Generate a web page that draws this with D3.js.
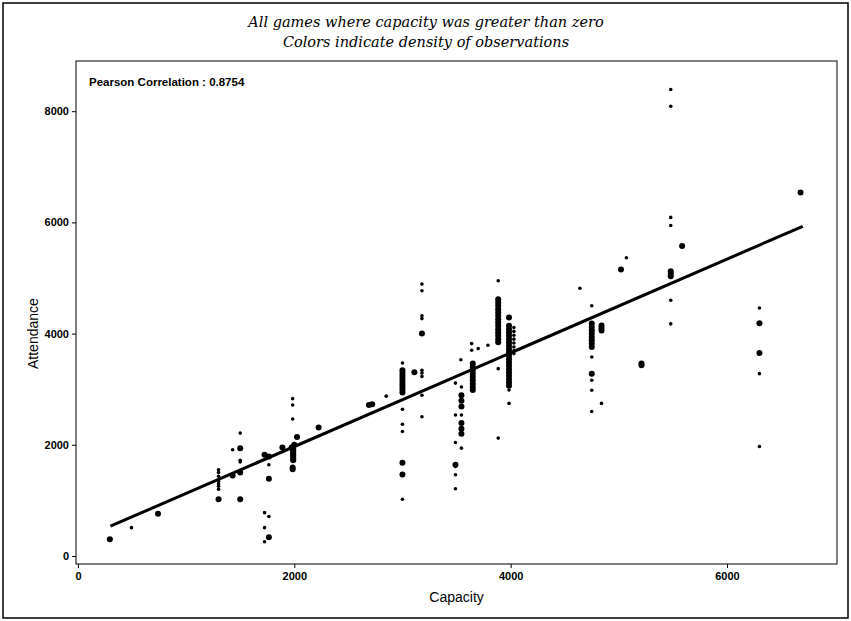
<!DOCTYPE html>
<html>
<head>
<meta charset="utf-8">
<script src="https://cdn.jsdelivr.net/npm/d3@7"></script>
<style>
  body { margin: 0; background: #fff; }
  svg { display: block; }
  .tick text { font-family: "Liberation Sans", Arial, sans-serif; font-size: 11px; font-weight: bold; fill: #000; }
</style>
</head>
<body>
<div id="chart"></div>
<script>
// titles
const titleLines = [
  'All games where capacity was greater than zero',
  'Colors indicate density of observations',
]
const corrLabel = 'Pearson Correlation :  0.8754'

const xTicks = [0, 2000, 4000, 6000]
const yTicks = [0, 2000, 4000, 6000, 8000]

// fitted regression line
const fitRange = [300, 6700]
const fitSlope = 0.8427
const fitIntercept = 283

// observations: capacity, attendance, dense (1 = bigger dot)
const capacity = [
  295, 495, 740,
  1300, 1300, 1300, 1300, 1300, 1300, 1300, 1300,
  1430, 1430,
  1500, 1500, 1500, 1500, 1500, 1500,
  1725, 1725, 1725, 1725,
  1765, 1765, 1765, 1765, 1765,
  1890,
  1985, 1985, 1985, 1990, 1990, 1990, 1990, 1990, 1990, 1990, 1990, 1990, 1975, 2000, 1985, 1985,
  2025, 2225, 2690, 2720, 2850,
  3000, 3000, 3000, 3000, 3000, 3000, 3000, 3000, 3000, 3000, 3000, 3000, 3000, 3000, 3000, 3000,
  3110,
  3180, 3180, 3180, 3180, 3180, 3180, 3180, 3180, 3180, 3180,
  3490, 3490, 3490, 3490, 3490, 3490, 3490,
  3540, 3545, 3545, 3545, 3545, 3545, 3545, 3545, 3545, 3545,
  3640, 3640, 3650, 3650, 3650, 3650, 3650, 3650, 3650, 3650, 3650,
  3700, 3790,
  3885, 3885, 3885, 3885, 3885, 3885, 3885, 3885, 3885, 3885, 3885, 3885, 3885, 3885, 3885, 3885, 3885,
  3985, 3985, 3985, 3985, 3985, 3985, 3985, 3985, 3985, 3985, 3985, 3985, 3985, 3985, 3985, 3985, 3985, 3985, 3985, 3985, 3985, 3985,
  4030, 4030, 4030, 4030, 4030, 4030, 4030, 4030,
  4640,
  4750, 4750, 4750, 4750, 4750, 4750, 4750, 4750, 4750, 4750, 4750, 4750, 4750, 4750,
  4840, 4840, 4840, 4840,
  5020, 5070, 5210, 5210,
  5480, 5480, 5480, 5480, 5480, 5480, 5480, 5480, 5480,
  5585,
  6300, 6300, 6300, 6300, 6300,
  6680,
]
const attendance = [
  300, 510, 760,
  1550, 1500, 1435, 1345, 1300, 1255, 1200, 1020,
  1910, 1450,
  2210, 1940, 1720, 1690, 1500, 1020,
  1820, 780, 510, 255,
  1790, 1640, 1390, 710, 335,
  1950,
  2830, 2715, 2465, 1970, 1930, 1900, 1870, 1840, 1810, 1780, 1750, 1720, 1950, 2000, 1590, 1560,
  2140, 2310, 2715, 2730, 2875,
  3470, 3340, 3290, 3240, 3190, 3140, 3090, 3040, 2990, 2940, 2640, 2370, 2240, 1675, 1465, 1020,
  3305,
  4890, 4770, 4320, 4270, 4000, 3340, 3290, 3230, 2890, 2505,
  3110, 2535, 2040, 1640, 1610, 1460, 1210,
  3530, 3040, 2890, 2790, 2690, 2535, 2390, 2290, 2200, 1940,
  3820, 3700, 3460, 3400, 3340, 3280, 3220, 3160, 3100, 3040, 2985,
  3730, 3790,
  4950, 4620, 4560, 4500, 4440, 4380, 4320, 4260, 4200, 4140, 4080, 4020, 3960, 3900, 3845, 3370, 2120,
  4290, 4140, 4080, 4020, 3960, 3900, 3840, 3780, 3720, 3660, 3600, 3540, 3480, 3420, 3360, 3300, 3240, 3180, 3120, 3060, 2985, 2745,
  4110, 4040, 3970, 3900, 3830, 3760, 3690, 3640,
  4815,
  4500, 4180, 4120, 4060, 4000, 3940, 3880, 3820, 3760, 3580, 3280, 3160, 2980, 2600,
  4145, 4100, 4055, 2745,
  5155, 5365, 3430, 3460,
  8390, 8090, 6090, 5945, 5120, 5075, 5030, 4600, 4175,
  5575,
  4460, 4185, 3650, 3280, 1970,
  6540,
]
const dense = [
  1, 0, 1,
  0, 0, 0, 0, 0, 0, 0, 1,
  0, 1,
  0, 1, 0, 0, 1, 1,
  1, 0, 0, 0,
  1, 0, 1, 0, 1,
  1,
  0, 0, 0, 1, 1, 1, 1, 1, 1, 1, 1, 1, 1, 1, 1, 1,
  1, 1, 1, 1, 0,
  0, 1, 1, 1, 1, 1, 1, 1, 1, 1, 0, 0, 0, 1, 1, 0,
  1,
  0, 0, 0, 0, 1, 0, 0, 0, 0, 0,
  0, 0, 0, 1, 0, 0, 0,
  0, 0, 1, 1, 1, 0, 1, 1, 1, 0,
  0, 0, 1, 1, 1, 1, 1, 1, 1, 1, 1,
  0, 0,
  0, 1, 1, 1, 1, 1, 1, 1, 1, 1, 1, 1, 1, 1, 1, 0, 0,
  1, 1, 1, 1, 1, 1, 1, 1, 1, 1, 1, 1, 1, 1, 1, 1, 1, 1, 1, 1, 0, 0,
  0, 0, 0, 0, 0, 0, 0, 0,
  0,
  0, 1, 1, 1, 1, 1, 1, 1, 1, 0, 1, 0, 0, 0,
  1, 1, 1, 0,
  1, 0, 1, 1,
  0, 0, 0, 0, 1, 1, 1, 0, 0,
  1,
  0, 1, 1, 0, 0,
  1,
]

const width = 851
const height = 621
const frame = {left: 76, top: 61, right: 837, bottom: 564}

const svg = d3.select('#chart').append('svg')
  .attr('width', width)
  .attr('height', height)

// outer border
svg.append('rect')
  .attr('x', 3).attr('y', 3)
  .attr('width', 845).attr('height', 615)
  .attr('fill', 'none')
  .attr('stroke', '#000')
  .attr('stroke-width', 1.5)

// scales
const x = d3.scaleLinear()
  .domain([-18, 7017])
  .range([frame.left, frame.right])
const y = d3.scaleLinear()
  .domain([-144, 8903])
  .range([frame.bottom, frame.top])

// plot frame
svg.append('rect')
  .attr('x', frame.left).attr('y', frame.top)
  .attr('width', frame.right - frame.left)
  .attr('height', frame.bottom - frame.top)
  .attr('fill', 'none')
  .attr('stroke', '#000')
  .attr('stroke-width', 1)

// axes (plain integers, no thousands separator)
const xAxis = svg.append('g')
  .attr('transform', `translate(0, ${frame.bottom})`)
  .call(d3.axisBottom(x).tickValues(xTicks).tickFormat(d3.format('d')).tickSize(4).tickPadding(4).tickSizeOuter(0))
xAxis.select('.domain').remove()

const yAxis = svg.append('g')
  .attr('transform', `translate(${frame.left}, 0)`)
  .call(d3.axisLeft(y).tickValues(yTicks).tickFormat(d3.format('d')).tickSize(4).tickPadding(3).tickSizeOuter(0))
yAxis.select('.domain').remove()

// axis titles
svg.append('text')
  .attr('x', x(3500))
  .attr('y', 602)
  .attr('text-anchor', 'middle')
  .style('font-family', '"Liberation Sans", Arial, sans-serif')
  .style('font-size', '14px')
  .text('Capacity')

svg.append('text')
  .attr('transform', `translate(38, ${y(4000)}) rotate(-90)`)
  .attr('text-anchor', 'middle')
  .style('font-family', '"Liberation Sans", Arial, sans-serif')
  .style('font-size', '14px')
  .text('Attendance')

// title lines
svg.selectAll('text.title')
  .data(titleLines)
  .enter().append('text')
  .attr('class', 'title')
  .attr('x', 426)
  .attr('y', (d, i) => 27 + i * 20)
  .attr('text-anchor', 'middle')
  .style('font-family', '"DejaVu Serif", "Liberation Serif", serif')
  .style('font-style', 'italic')
  .style('font-size', '14.5px')
  .text(d => d)

// correlation label
svg.append('text')
  .attr('x', 89)
  .attr('y', 86)
  .style('font-family', '"Liberation Sans", Arial, sans-serif')
  .style('font-size', '11.5px')
  .style('font-weight', 'bold')
  .text(corrLabel)

// regression line
svg.append('line')
  .attr('x1', x(fitRange[0]))
  .attr('y1', y(fitIntercept + fitSlope * fitRange[0]))
  .attr('x2', x(fitRange[1]))
  .attr('y2', y(fitIntercept + fitSlope * fitRange[1]))
  .attr('stroke', '#000')
  .attr('stroke-width', 3)

// points
const points = capacity.map((c, i) => ({cap: c, att: attendance[i], dense: dense[i]}))
svg.append('g')
  .selectAll('circle')
  .data(points)
  .enter().append('circle')
  .attr('cx', d => x(d.cap))
  .attr('cy', d => y(d.att))
  .attr('r', d => d.dense ? 3 : 1.8)
  .attr('fill', '#000')
</script>
</body>
</html>
